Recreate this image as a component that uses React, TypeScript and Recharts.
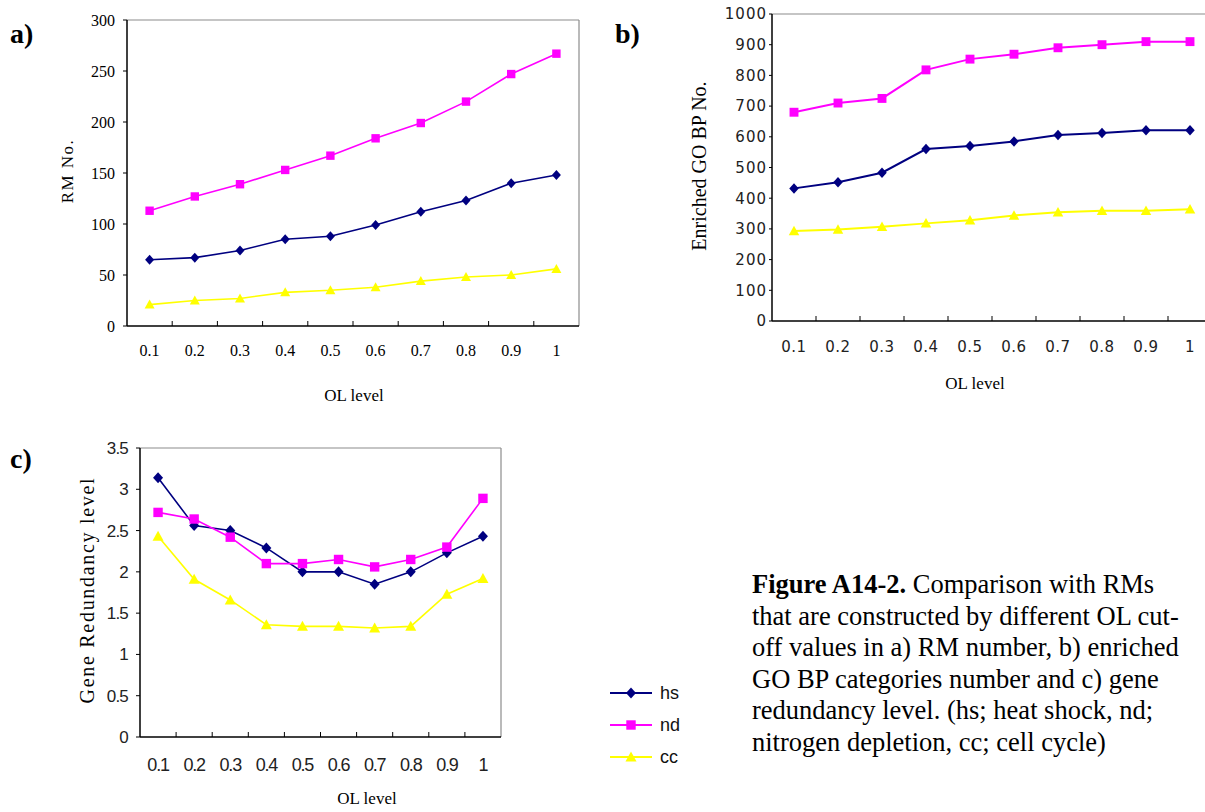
import React from "react";
import { LineChart, Line, XAxis, YAxis, Legend } from "recharts";

// OL cut-off levels shared by all three panels
const categories = ["0.1", "0.2", "0.3", "0.4", "0.5", "0.6", "0.7", "0.8", "0.9", "1"];

// a) RM number
const rmHs = [65, 67, 74, 85, 88, 99, 112, 123, 140, 148];
const rmNd = [113, 127, 139, 153, 167, 184, 199, 220, 247, 267];
const rmCc = [21, 25, 27, 33, 35, 38, 44, 48, 50, 56];

// b) enriched GO BP categories
const goHs = [432, 452, 483, 560, 570, 585, 606, 612, 621, 621];
const goNd = [680, 710, 725, 818, 853, 869, 890, 900, 910, 910];
const goCc = [293, 298, 307, 318, 328, 344, 354, 359, 359, 364];

// c) gene redundancy level
const redHs = [3.14, 2.56, 2.5, 2.29, 2.0, 2.0, 1.85, 2.0, 2.23, 2.43];
const redNd = [2.72, 2.64, 2.42, 2.1, 2.1, 2.15, 2.06, 2.15, 2.3, 2.89];
const redCc = [2.43, 1.91, 1.66, 1.36, 1.34, 1.34, 1.32, 1.34, 1.73, 1.92];

const rmTicks = [0, 50, 100, 150, 200, 250, 300];
const goTicks = [0, 100, 200, 300, 400, 500, 600, 700, 800, 900, 1000];
const redTicks = [0, 0.5, 1, 1.5, 2, 2.5, 3, 3.5];

const seriesKeys = ["hs", "nd", "cc"];
const COLORS: Record<string, string> = { hs: "#000080", nd: "#FF00FF", cc: "#FFFF00" };

const centers = categories.map((_, i) => i + 1);
const between = categories.slice(1).map((_, i) => i + 1.5);
const xDomain = [0.5, categories.length + 0.5];

const buildRows = (hs: number[], nd: number[], cc: number[]) =>
  categories.map((c, i) => ({ idx: i + 1, label: c, hs: hs[i], nd: nd[i], cc: cc[i] }));

const rmData = buildRows(rmHs, rmNd, rmCc);
const goData = buildRows(goHs, goNd, goCc);
const redData = buildRows(redHs, redNd, redCc);

function Marker({ cx, cy, kind, size }: { cx?: number; cy?: number; kind: string; size: number }) {
  if (cx == null || cy == null) return null;
  const h = size / 2;
  if (kind === "hs") {
    return <path d={`M${cx},${cy - h - 0.5}L${cx + h},${cy}L${cx},${cy + h + 0.5}L${cx - h},${cy}Z`} fill={COLORS.hs} />;
  }
  if (kind === "nd") {
    return <rect x={cx - h + 0.3} y={cy - h + 0.3} width={size - 0.6} height={size - 0.6} fill={COLORS.nd} />;
  }
  return <path d={`M${cx},${cy - h - 0.5}L${cx + h + 0.5},${cy + h - 0.5}L${cx - h - 0.5},${cy + h - 0.5}Z`} fill={COLORS.cc} />;
}

function series(markerSize: number, strokeWidth: number) {
  return seriesKeys.map((k) => (
    <Line
      key={k}
      xAxisId="main"
      dataKey={k}
      name={k}
      stroke={COLORS[k]}
      strokeWidth={strokeWidth}
      isAnimationActive={false}
      activeDot={false}
      dot={(p: any) => <Marker key={`${k}-${p.index}`} cx={p.cx} cy={p.cy} kind={k} size={markerSize} />}
    />
  ));
}

const noTick = () => <g />;

// frame: between-category ticks (inside), grey top/right border
// (axes of size 1, a size-0 axis is not drawn)
function frameAxes(yMax: number) {
  return [
    <XAxis key="minor" xAxisId="minor" dataKey="idx" type="number" domain={xDomain} allowDataOverflow ticks={between} interval={0} tick={noTick} axisLine={false} tickLine={{ stroke: "#000" }} tickSize={5} mirror height={1} />,
    <XAxis key="top" xAxisId="top" orientation="top" dataKey="idx" type="number" domain={xDomain} allowDataOverflow ticks={centers} tick={noTick} tickLine={false} axisLine={{ stroke: "#8c8c8c", strokeWidth: 1.2 }} height={1} />,
    <YAxis key="right" yAxisId="right" orientation="right" type="number" domain={[0, yMax]} allowDataOverflow ticks={[0, yMax]} tick={noTick} tickLine={false} axisLine={{ stroke: "#8c8c8c", strokeWidth: 1.2 }} width={1} />,
  ];
}

function LegendBox() {
  return (
    <div style={{ fontFamily: "Liberation Sans", fontSize: 18, color: "#111" }}>
      {seriesKeys.map((k) => (
        <div key={k} style={{ display: "flex", alignItems: "center", height: 32 }}>
          <svg width={44} height={14}>
            <line x1={0} y1={7} x2={42} y2={7} stroke={COLORS[k]} strokeWidth={2} />
            <Marker cx={21} cy={7} kind={k} size={10} />
          </svg>
          <span style={{ marginLeft: 6 }}>{k}</span>
        </div>
      ))}
    </div>
  );
}

const abs = (left: number, top: number): React.CSSProperties => ({ position: "absolute", left, top });

function CenterText({ x, y, rotate, style, children }: { x: number; y: number; rotate?: boolean; style?: React.CSSProperties; children: React.ReactNode }) {
  return (
    <div
      style={{
        position: "absolute",
        left: x,
        top: y,
        transform: `translate(-50%, -50%)${rotate ? " rotate(-90deg)" : ""}`,
        whiteSpace: "nowrap",
        lineHeight: 1,
        ...style,
      }}
    >
      {children}
    </div>
  );
}

const serif = "'Liberation Serif', 'Times New Roman', serif";
const panelTag: React.CSSProperties = { fontFamily: serif, fontWeight: 700, fontSize: 28, lineHeight: 1 };

export default function App() {
  const xFmt = (v: number) => categories[v - 1] ?? "";
  return (
    <div style={{ position: "absolute", left: 0, top: 0, width: 1205, height: 812, overflow: "hidden", background: "#fff", fontFamily: serif }}>
      <div style={{ ...abs(10, 20), ...panelTag }}>a)</div>
      <div style={{ ...abs(615, 20), ...panelTag }}>b)</div>
      <div style={{ ...abs(10, 445), ...panelTag }}>c)</div>

      {/* a) RM No. */}
      <div style={abs(0, 0)}>
        <LineChart width={600} height={410} data={rmData} margin={{ top: 19, right: 20, left: 67, bottom: 54 }}>
          {frameAxes(300)}
          <XAxis xAxisId="main" dataKey="idx" type="number" domain={xDomain} allowDataOverflow ticks={centers} interval={0} tickFormatter={xFmt} tickLine={false} tickSize={0} tickMargin={19} axisLine={{ stroke: "#000", strokeWidth: 1.5 }} tick={{ fill: "#000", fontSize: 16, fontFamily: serif }} height={30} />
          <YAxis type="number" domain={[0, 300]} ticks={rmTicks} interval={0} width={60} tickSize={4} tickMargin={8} axisLine={{ stroke: "#000", strokeWidth: 1.5 }} tickLine={{ stroke: "#000" }} tick={{ fill: "#000", fontSize: 16, fontFamily: serif }} />
          {series(9, 1.6)}
        </LineChart>
      </div>
      <CenterText x={67} y={171} rotate style={{ fontSize: 17, letterSpacing: 1.5 }}>RM No.</CenterText>
      <CenterText x={354} y={395} style={{ fontSize: 17 }}>OL level</CenterText>

      {/* b) Enriched GO BP No. */}
      <div style={abs(600, 0)}>
        <LineChart width={620} height={400} data={goData} margin={{ top: 13, right: 7, left: 112, bottom: 49 }}>
          {frameAxes(1000)}
          <XAxis xAxisId="main" dataKey="idx" type="number" domain={xDomain} allowDataOverflow ticks={centers} interval={0} tickFormatter={xFmt} tickLine={false} tickSize={0} tickMargin={20} axisLine={{ stroke: "#000", strokeWidth: 1.5 }} tick={{ fill: "#222", fontSize: 15, fontFamily: "DejaVu Sans", letterSpacing: 0.5 }} height={30} />
          <YAxis type="number" domain={[0, 1000]} ticks={goTicks} interval={0} width={60} tickSize={3} tickMargin={2} axisLine={{ stroke: "#000", strokeWidth: 1.5 }} tickLine={{ stroke: "#000" }} tick={{ fill: "#222", fontSize: 15, fontFamily: "DejaVu Sans", letterSpacing: 1 }} />
          {series(9.5, 2)}
        </LineChart>
      </div>
      <CenterText x={699} y={166} rotate style={{ fontSize: 20 }}>Enriched GO BP No.</CenterText>
      <CenterText x={975} y={383} style={{ fontSize: 17 }}>OL level</CenterText>

      {/* c) Gene Redundancy level */}
      <div style={abs(0, 430)}>
        <LineChart width={720} height={382} data={redData} margin={{ top: 17, right: 128, left: 80, bottom: 45 }}>
          {frameAxes(3.5)}
          <XAxis xAxisId="main" dataKey="idx" type="number" domain={xDomain} allowDataOverflow ticks={centers} interval={0} tickFormatter={xFmt} tickLine={false} tickSize={0} tickMargin={21} axisLine={{ stroke: "#000", strokeWidth: 1.5 }} tick={{ fill: "#222", fontSize: 18, fontFamily: "Liberation Sans", letterSpacing: -1.2 }} height={30} />
          <YAxis type="number" domain={[0, 3.5]} ticks={redTicks} interval={0} width={60} tickSize={4} tickMargin={8} axisLine={{ stroke: "#000", strokeWidth: 1.5 }} tickLine={{ stroke: "#000" }} tick={{ fill: "#222", fontSize: 17, fontFamily: "Liberation Sans", letterSpacing: -0.8 }} />
          <Legend layout="horizontal" verticalAlign="middle" align="right" content={LegendBox} wrapperStyle={{ left: 610, right: "auto", top: 247, width: 90 }} />
          {series(10, 1.6)}
        </LineChart>
      </div>
      <CenterText x={87} y={590} rotate style={{ fontSize: 20, letterSpacing: 1.7 }}>Gene Redundancy level</CenterText>
      <CenterText x={367} y={798} style={{ fontSize: 17 }}>OL level</CenterText>

      {/* caption */}
      <div style={{ position: "absolute", left: 752, top: 569, fontSize: 26.5, lineHeight: "31.6px", whiteSpace: "nowrap", color: "#000" }}>
        <div><b>Figure A14-2.</b> Comparison with RMs</div>
        <div>that are constructed by different OL cut-</div>
        <div>off values in a) RM number, b) enriched</div>
        <div>GO BP categories number and c) gene</div>
        <div>redundancy level. (hs; heat shock, nd;</div>
        <div>nitrogen depletion, cc; cell cycle)</div>
      </div>
    </div>
  );
}
